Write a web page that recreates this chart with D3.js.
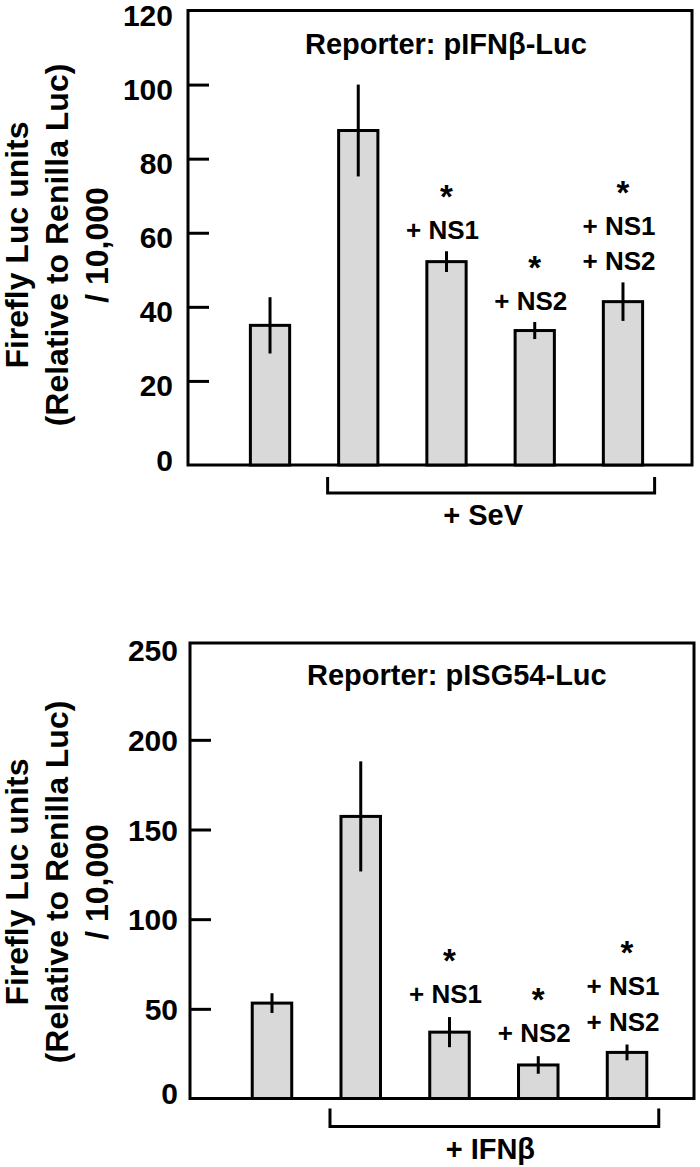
<!DOCTYPE html>
<html>
<head>
<meta charset="utf-8">
<script src="https://cdn.jsdelivr.net/npm/d3@7"></script>
<style>
  html, body { margin: 0; padding: 0; background: #fff; }
  svg { display: block; }
  text { font-family: "Liberation Sans", Arial, Helvetica, sans-serif; font-weight: bold; fill: #000; }
</style>
</head>
<body>
<svg id="chart" width="700" height="1167"></svg>
<script>
// ---------------- data ----------------
const categories = ["Mock", "SeV", "SeV + NS1", "SeV + NS2", "SeV + NS1 + NS2"];
const annotations = [[], [], ["+ NS1"], ["+ NS2"], ["+ NS1", "+ NS2"]];
const significant = [false, false, true, true, true];

const topTitle = "Reporter: pIFNβ-Luc";
const topValues = [35, 87.6, 52.2, 33.6, 41.4];
const topErrors = [7.6, 12.4, 2.8, 2.3, 5.2];
const topTicks = [0, 20, 40, 60, 80, 100, 120];
const topGroupLabel = "+ SeV";

const bottomTitle = "Reporter: pISG54-Luc";
const bottomValues = [53.2, 157.3, 37, 18.7, 25.7];
const bottomErrors = [5.5, 30.7, 8.4, 4.9, 4.4];
const bottomTicks = [0, 50, 100, 150, 200, 250];
const bottomGroupLabel = "+ IFNβ";

const yLabelLines = ["Firefly Luc units", "(Relative to Renilla Luc)", "/ 10,000"];

// ---------------- drawing ----------------
const svg = d3.select("#chart");

function drawPanel(opt) {
  const g = svg.append("g");
  const x = d3.scaleBand()
    .domain(categories)
    .range(opt.xRange)
    .paddingInner(0.555)
    .paddingOuter(0.2775);
  const y = d3.scaleLinear().domain(opt.yDomain).range(opt.yRange);
  const base = y(opt.yDomain[0]);
  const top = y(opt.yDomain[1]);
  const left = opt.axisX, right = opt.frameRight;

  // frame
  g.append("rect")
    .attr("x", left).attr("y", top)
    .attr("width", right - left).attr("height", base - top)
    .attr("fill", "none").attr("stroke", "#000").attr("stroke-width", 3);

  // y axis (ticks inward)
  const axis = d3.axisLeft(y)
    .tickValues(opt.ticks)
    .tickSize(-21)
    .tickPadding(opt.tickPad)
    .tickFormat(d3.format("d"));
  const ag = g.append("g").attr("transform", `translate(${left},0)`).call(axis);
  ag.select(".domain").remove();
  ag.selectAll(".tick line")
    .attr("stroke", "#000").attr("stroke-width", 3)
    .filter(d => d === opt.ticks[0] || d === opt.ticks[opt.ticks.length - 1]).remove();
  ag.selectAll(".tick text")
    .attr("font-size", 30)
    .attr("font-family", "Liberation Sans, Arial, sans-serif")
    .attr("font-weight", "bold")
    .attr("fill", "#000")
    .attr("dy", (d) => d === 0 ? opt.zeroDy : opt.labelDy);

  // bars
  g.selectAll("rect.bar")
    .data(opt.values)
    .join("rect")
    .attr("class", "bar")
    .attr("x", (d, i) => x(categories[i]))
    .attr("y", d => y(d))
    .attr("width", x.bandwidth())
    .attr("height", d => base - y(d))
    .attr("fill", "#d9d9d9")
    .attr("stroke", "#000")
    .attr("stroke-width", 3);

  // error bars
  g.selectAll("line.err")
    .data(opt.values)
    .join("line")
    .attr("class", "err")
    .attr("x1", (d, i) => x(categories[i]) + x.bandwidth() / 2)
    .attr("x2", (d, i) => x(categories[i]) + x.bandwidth() / 2)
    .attr("y1", (d, i) => y(d + opt.errors[i]))
    .attr("y2", (d, i) => y(d - opt.errors[i]))
    .attr("stroke", "#000")
    .attr("stroke-width", 3);

  // annotations: condition lines with significance asterisk above
  opt.values.forEach((v, i) => {
    const lines = annotations[i];
    if (!lines.length) return;
    const cx = x(categories[i]) + x.bandwidth() / 2;
    const lastBase = y(v + opt.errors[i]) - opt.annGap;
    const lineH = 35.5;
    const firstBase = lastBase - (lines.length - 1) * lineH;
    lines.forEach((s, j) => {
      g.append("text")
        .attr("x", cx - 4)
        .attr("y", firstBase + j * lineH)
        .attr("text-anchor", "middle")
        .attr("font-size", 26)
        .text(s);
    });
    if (significant[i]) {
      g.append("text")
        .attr("x", cx)
        .attr("y", firstBase - 31)
        .attr("text-anchor", "middle")
        .attr("font-size", 33)
        .text("*");
    }
  });

  // bracket under treated groups
  const bx1 = x(categories[1]) - 11;
  const bx2 = x(categories[categories.length - 1]) + x.bandwidth() + 12;
  const by1 = base + opt.bracketTop, by2 = base + opt.bracketBottom;
  g.append("path")
    .attr("d", `M${bx1},${by1}V${by2}H${bx2}V${by1}`)
    .attr("fill", "none").attr("stroke", "#000").attr("stroke-width", 3);
  g.append("text")
    .attr("x", (bx1 + bx2) / 2 + opt.groupDx)
    .attr("y", by2 + 32)
    .attr("text-anchor", "middle")
    .attr("font-size", 29)
    .text(opt.groupLabel);

  // title
  g.append("text")
    .attr("x", left + opt.titleDx)
    .attr("y", top + opt.titleDy)
    .attr("text-anchor", "start")
    .attr("font-size", 29)
    .text(opt.title);

  // y label
  const yl = g.append("text")
    .attr("transform", `translate(0,${opt.yLabelCenter}) rotate(-90)`)
    .attr("text-anchor", "middle")
    .attr("font-size", 32);
  yLabelLines.forEach((s, j) => {
    yl.append("tspan").attr("x", 0).attr("y", 27.5 + j * 40).text(s);
  });
}

drawPanel({
  values: topValues, errors: topErrors, ticks: topTicks,
  title: topTitle, groupLabel: topGroupLabel,
  xRange: [225.9, 667.1],
  yDomain: [-2.7, 120], yRange: [465, 10.5],
  axisX: 188, frameRight: 692, tickPad: 15, labelDy: "0.5em", zeroDy: "0.52em",
  annGap: 12, bracketTop: 12, bracketBottom: 28, groupDx: -8,
  titleDx: 117, titleDy: 43, yLabelCenter: 245
});

drawPanel({
  values: bottomValues, errors: bottomErrors, ticks: bottomTicks,
  title: bottomTitle, groupLabel: bottomGroupLabel,
  xRange: [227.6, 671.4],
  yDomain: [0, 254], yRange: [1098.5, 643],
  axisX: 190, frameRight: 694, tickPad: 12, labelDy: "0.36em", zeroDy: "0.18em",
  annGap: 14, bracketTop: 10, bracketBottom: 28, groupDx: -4,
  titleDx: 117, titleDy: 42, yLabelCenter: 882
});
</script>
</body>
</html>
